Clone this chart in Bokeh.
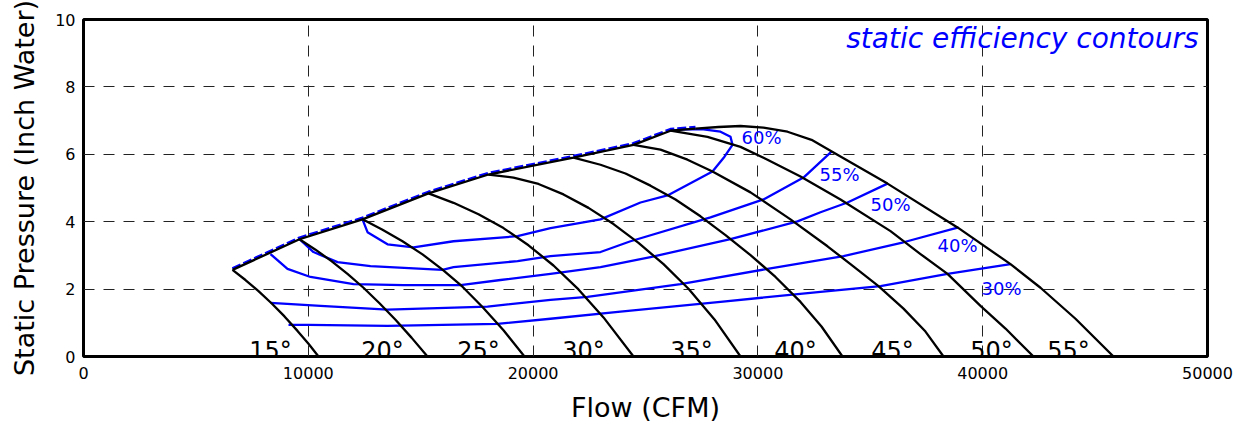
from bokeh.plotting import figure
from bokeh.models import Range1d, Label, FixedTicker, BasicTickFormatter
from bokeh.embed import file_html
from bokeh.resources import INLINE

# ---------------- data ----------------
x_ticks = [0, 10000, 20000, 30000, 40000, 50000]
y_ticks = [0, 2, 4, 6, 8, 10]

angle_labels = ["15°", "20°", "25°", "30°", "35°", "40°", "45°", "50°", "55°"]
angle_label_x = [8319, 13301, 17571, 22242, 27046, 31673, 35988, 40392, 43817]

fan15_x = [6628, 7206, 7785, 8363, 8941, 9520, 10009, 10454]
fan15_y = [2.57, 2.27, 1.94, 1.58, 1.19, 0.76, 0.38, 0.0]
fan20_x = [9609, 10320, 11032, 11744, 12455, 13167, 13879, 14591, 15302]
fan20_y = [3.48, 3.17, 2.83, 2.45, 2.04, 1.58, 1.09, 0.56, 0.0]
fan25_x = [12411, 13301, 14190, 15080, 15970, 16859, 17749, 18683, 19617]
fan25_y = [4.07, 3.76, 3.42, 3.03, 2.58, 2.07, 1.47, 0.78, 0.0]
fan30_x = [15347, 16459, 17571, 18683, 19795, 20907, 22019, 23132, 24466]
fan30_y = [4.84, 4.56, 4.22, 3.81, 3.30, 2.70, 1.99, 1.16, 0.0]
fan35_x = [18016, 19128, 20240, 21352, 22464, 23577, 24689, 25801, 26913, 28069, 29226]
fan35_y = [5.40, 5.31, 5.12, 4.81, 4.41, 3.93, 3.37, 2.74, 2.01, 1.10, 0.0]
fan40_x = [21797, 22998, 24110, 25222, 26334, 27446, 28559, 29671, 30783, 31895, 32829, 33763]
fan40_y = [5.90, 5.69, 5.43, 5.07, 4.66, 4.16, 3.60, 3.01, 2.36, 1.62, 0.89, 0.0]
fan45_x = [24466, 25667, 26868, 27980, 29671, 31450, 33096, 34119, 35365, 36477, 37455, 38256]
fan45_y = [6.28, 6.14, 5.84, 5.49, 4.87, 4.07, 3.27, 2.74, 2.09, 1.42, 0.74, 0.0]
fan50_x = [26112, 27758, 29226, 30427, 31895, 33674, 35899, 37233, 38434, 39902, 41014, 42260]
fan50_y = [6.70, 6.52, 6.22, 5.84, 5.34, 4.66, 3.72, 3.04, 2.45, 1.50, 0.83, 0.0]
fan55_x = [27224, 28247, 29226, 30249, 31317, 32385, 33363, 35765, 38879, 41237, 42571, 44128, 45819]
fan55_y = [6.76, 6.81, 6.84, 6.79, 6.67, 6.43, 6.05, 5.13, 3.83, 2.74, 2.04, 1.12, 0.0]

surge_x = [6628, 9609, 12411, 15347, 18016, 21797, 24466, 26112, 27224]
surge_y = [2.57, 3.48, 4.07, 4.84, 5.40, 5.90, 6.28, 6.70, 6.76]

eff_labels = ["60%", "55%", "50%", "40%", "30%"]
eff_label_x = [30160, 33630, 35899, 38879, 40836]
eff_label_y = [6.49, 5.41, 4.51, 3.29, 2.01]

eff30_x = [9119, 10009, 13523, 18416, 20774, 23888, 28336, 32785, 35454, 38434, 41237]
eff30_y = [0.94, 0.94, 0.91, 0.97, 1.12, 1.33, 1.62, 1.92, 2.09, 2.45, 2.74]
eff40_x = [8319, 10543, 13523, 17972, 20774, 22420, 26557, 30427, 33808, 36477, 38924]
eff40_y = [1.59, 1.50, 1.39, 1.48, 1.68, 1.77, 2.15, 2.60, 2.98, 3.39, 3.83]
eff50_x = [8319, 9075, 10098, 12011, 14235, 16770, 18550, 20774, 22998, 25222, 28781, 31762, 32785, 33986, 35765]
eff50_y = [3.04, 2.60, 2.36, 2.15, 2.12, 2.12, 2.27, 2.45, 2.65, 2.95, 3.48, 4.01, 4.28, 4.57, 5.13]
eff55_x = [9609, 10231, 11299, 12767, 15970, 16459, 19306, 20774, 22998, 24333, 27891, 30249, 32028, 33274]
eff55_y = [3.48, 3.10, 2.80, 2.68, 2.57, 2.65, 2.83, 2.98, 3.10, 3.42, 4.13, 4.66, 5.31, 6.08]
eff60_x = [12411, 12634, 13523, 14680, 16459, 19306, 20774, 22998, 24778, 25979, 27980, 28514, 28870, 28781, 28336, 27580, 26690, 26112]
eff60_y = [4.07, 3.69, 3.33, 3.24, 3.42, 3.57, 3.81, 4.07, 4.57, 4.78, 5.49, 5.93, 6.28, 6.52, 6.67, 6.74, 6.74, 6.70]

# ---------------- figure ----------------
FONT = "DejaVu Sans"
BLUE = "#0000ff"

p = figure(width=1237, height=425, output_backend="svg", toolbar_location=None,
           x_range=Range1d(0, 50000), y_range=Range1d(0, 10),
           min_border_left=83, min_border_right=30, min_border_top=19, min_border_bottom=67)
p.background_fill_color = "white"
p.border_fill_color = "white"
p.outline_line_color = "black"
p.outline_line_width = 3

p.xaxis.ticker = FixedTicker(ticks=x_ticks)
p.yaxis.ticker = FixedTicker(ticks=y_ticks)
p.xaxis.formatter = BasicTickFormatter(use_scientific=False)
for ax in (p.xaxis, p.yaxis):
    ax.axis_line_color = None
    ax.major_tick_in = 0
    ax.major_tick_out = 0
    ax.minor_tick_in = 0
    ax.minor_tick_out = 0
    ax.major_label_text_font = FONT
    ax.major_label_text_font_size = "16px"
    ax.major_label_text_color = "black"
    ax.axis_label_text_font = FONT
    ax.axis_label_text_font_size = "27px"
    ax.axis_label_text_font_style = "normal"
    ax.axis_label_text_color = "black"
p.xaxis.axis_label = "Flow (CFM)"
p.yaxis.axis_label = "Static Pressure (Inch Water)"
p.xaxis.major_label_standoff = 10
p.yaxis.major_label_standoff = 8
p.xaxis.axis_label_standoff = 10
p.yaxis.axis_label_standoff = 12

for g in (p.xgrid, p.ygrid):
    g.grid_line_color = "#222222"
    g.grid_line_width = 1
    g.grid_line_dash = "11 9"
p.xgrid.ticker = FixedTicker(ticks=x_ticks[1:-1])
p.ygrid.ticker = FixedTicker(ticks=y_ticks[1:-1])

# blue trace along the surge envelope (under the black envelope)
p.line(surge_x, [v + 0.04 for v in surge_y], line_color=BLUE, line_width=3, line_dash="9 3")

# efficiency contours
for xs, ys in [(eff30_x, eff30_y), (eff40_x, eff40_y), (eff50_x, eff50_y),
               (eff55_x, eff55_y), (eff60_x, eff60_y)]:
    p.line(xs, ys, line_color=BLUE, line_width=2.3, line_join="round")

# fan curves
p.line(surge_x, surge_y, line_color="black", line_width=2.3)
for xs, ys in [(fan15_x, fan15_y), (fan20_x, fan20_y), (fan25_x, fan25_y),
               (fan30_x, fan30_y), (fan35_x, fan35_y), (fan40_x, fan40_y),
               (fan45_x, fan45_y), (fan50_x, fan50_y), (fan55_x, fan55_y)]:
    p.line(xs, ys, line_color="black", line_width=2.3, line_join="round")

for t, x in zip(angle_labels, angle_label_x):
    p.add_layout(Label(x=x, y=0.15, text=t, text_align="center", text_baseline="alphabetic",
                       text_font=FONT, text_font_size="24px", text_color="black"))

for t, x, y in zip(eff_labels, eff_label_x, eff_label_y):
    p.add_layout(Label(x=x, y=y, text=t, text_align="center", text_baseline="middle",
                       text_font=FONT, text_font_size="18px", text_color=BLUE))

p.add_layout(Label(x=49600, y=9.45, text="static efficiency contours", text_align="right",
                   text_baseline="alphabetic", text_font=FONT, text_font_size="28px",
                   text_font_style="italic", text_color=BLUE))

open("out.html", "w").write(file_html(p, INLINE))
